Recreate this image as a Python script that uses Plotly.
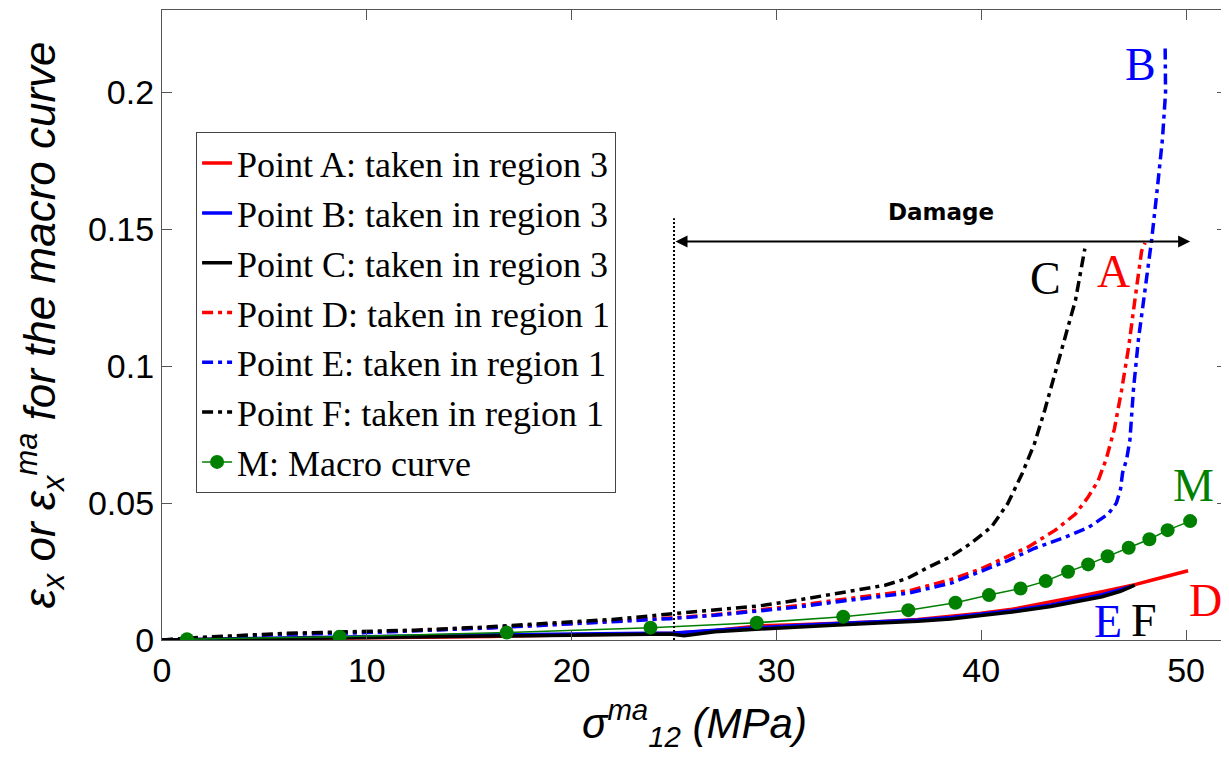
import plotly.graph_objects as go

# ---------------- data ----------------
# solid curves (legend: Point A/B/C, region 3)
xA = [0, 3, 6, 10, 13, 16, 19, 22, 25, 27, 29.2, 31, 33, 35, 36.9, 38.5, 40, 41.5, 43.4, 44.5, 45.9, 47.5, 48.5, 49.3, 50.1]
yA = [0, 0.0002, 0.0004, 0.0006, 0.0009, 0.0013, 0.0017, 0.0021, 0.0025, 0.0035, 0.0052, 0.0056, 0.0060, 0.0067, 0.0075, 0.0086, 0.0098, 0.0112, 0.0138, 0.0155, 0.0176, 0.0202, 0.0222, 0.0236, 0.0253]

xB = [0, 3, 6, 10, 13, 16, 19, 22, 25, 27, 29.2, 31, 33, 35, 36.9, 38.5, 40, 41.5, 43.4, 44.5, 45.9, 47.3]
yB = [0, 0.0004, 0.0008, 0.0012, 0.0016, 0.0019, 0.0021, 0.0024, 0.0026, 0.0036, 0.0046, 0.0053, 0.0060, 0.0067, 0.0073, 0.0082, 0.0093, 0.0107, 0.0128, 0.0143, 0.0165, 0.0195]

xC = [0, 3, 6, 10, 13, 16, 19, 22, 24.8, 25.5, 27, 29.2, 31, 33, 35, 36.9, 38.5, 40, 41.5, 43.4, 44.5, 45.9, 46.8, 47.5]
yC = [0, 0.0003, 0.0006, 0.0009, 0.0012, 0.0015, 0.0018, 0.0020, 0.0022, 0.0016, 0.0030, 0.0040, 0.0048, 0.0055, 0.0062, 0.0068, 0.0077, 0.0088, 0.0102, 0.0122, 0.0138, 0.0158, 0.0178, 0.0200]

# dash-dot curves (legend: Point D/E/F, region 1)
xD = [0, 3, 6, 10, 13, 16, 19, 22, 24.8, 27, 29.2, 31, 33, 35, 36.5, 38.5, 40.0, 41.0, 42.3, 43.6, 44.6, 45.2, 45.7, 46.1, 46.5, 46.85, 47.2, 47.5, 47.83, 48.0]
yD = [0, 0.0012, 0.0022, 0.0028, 0.0035, 0.0045, 0.0056, 0.0068, 0.0080, 0.0092, 0.0110, 0.0125, 0.0146, 0.0165, 0.0180, 0.0220, 0.0260, 0.0295, 0.0340, 0.0400, 0.0460, 0.0520, 0.0580, 0.0660, 0.0770, 0.0910, 0.1070, 0.1240, 0.1420, 0.1450]

xE = [0, 3, 6, 10, 13, 16, 19, 22, 24.8, 27, 29.2, 31, 33, 35, 36.5, 38.5, 40.16, 41.31, 42.61, 43.91, 45.22, 46.2, 46.6, 46.8, 46.9, 47.1, 47.26, 47.43, 47.67, 47.99, 48.32, 48.6, 48.85, 49.0, 48.98]
yE = [0, 0.0011, 0.0021, 0.0027, 0.0034, 0.0044, 0.0055, 0.0066, 0.0078, 0.0090, 0.0106, 0.0120, 0.0140, 0.0158, 0.0172, 0.0207, 0.0255, 0.0290, 0.0335, 0.0370, 0.0410, 0.0460, 0.0500, 0.0550, 0.0610, 0.0660, 0.0730, 0.0912, 0.1094, 0.1276, 0.1460, 0.1650, 0.1830, 0.2000, 0.2164]

xF = [0, 2, 5.9, 10, 12.4, 16, 19, 22, 24.8, 27, 29.2, 31, 33, 34.1, 35.3, 36.4, 37.4, 38.5, 39.5, 40.5, 41.3, 42.0, 42.6, 43.1, 43.6, 44.1, 44.6, 45.06]
yF = [0, 0.0010, 0.0024, 0.0030, 0.0036, 0.0048, 0.0060, 0.0075, 0.0095, 0.0110, 0.0125, 0.0145, 0.0170, 0.0182, 0.0200, 0.0225, 0.0265, 0.0304, 0.0353, 0.0413, 0.0499, 0.0608, 0.0717, 0.0839, 0.0973, 0.1106, 0.1240, 0.1429]

# macro curve M
xM = [1.22, 8.67, 16.83, 23.85, 29.04, 33.26, 36.44, 38.74, 40.38, 41.92, 43.15, 44.24, 45.22, 46.17, 47.20, 48.21, 49.10, 50.20]
yM = [0.0003, 0.0012, 0.0027, 0.0045, 0.0063, 0.0085, 0.0109, 0.0136, 0.0164, 0.0188, 0.0215, 0.0249, 0.0276, 0.0306, 0.0337, 0.0368, 0.0401, 0.0434]

names = ["Point A: taken in region 3", "Point B: taken in region 3", "Point C: taken in region 3",
         "Point D: taken in region 1", "Point E: taken in region 1", "Point F: taken in region 1",
         "M: Macro curve"]

x_ticks = [0, 10, 20, 30, 40, 50]
y_ticks = [0, 0.05, 0.1, 0.15, 0.2]
y_ticklabels = ["0", "0.05", "0.1", "0.15", "0.2"]

# curve labels: (text, x, y, colour)
labels = [("B", 47.79, 0.2101, "#0000ff"), ("C", 43.13, 0.132, "black"), ("A", 46.46, 0.1346, "#ff0000"),
          ("M", 50.38, 0.0565, "#008000"), ("D", 50.96, 0.0146, "#ff0000"),
          ("E", 46.17, 0.0069, "#0000ff"), ("F", 47.93, 0.0073, "black")]

damage_start = 25.0
damage_end = 50.2
damage_y = 0.1455
damage_line_top = 0.154

# ---------------- figure ----------------
RED, BLUE, BLACK, GREEN = "#ff0000", "#0000ff", "#000000", "#008000"
DASHDOT = "11px,5px,4px,5px"

fig = go.Figure()
series = [
    (xA, yA, RED, "solid"), (xB, yB, BLUE, "solid"), (xC, yC, BLACK, "solid"),
    (xD, yD, RED, DASHDOT), (xE, yE, BLUE, DASHDOT), (xF, yF, BLACK, DASHDOT),
]
for (xs, ys, col, dash), nm in zip(series, names[:6]):
    fig.add_trace(go.Scatter(x=xs, y=ys, mode="lines", name=nm, legendgroup=nm,
                             line=dict(color=col, width=3.5, dash=dash)))
fig.add_trace(go.Scatter(x=xM, y=yM, mode="lines+markers", name=names[6], legendgroup=names[6],
                         line=dict(color=GREEN, width=1.5),
                         marker=dict(color=GREEN, size=14)))

for t, x, y, c in labels:
    fig.add_annotation(x=x, y=y, xref="x", yref="y", text=t, showarrow=False,
                       font=dict(family="Liberation Serif", size=46, color=c),
                       xanchor="center", yanchor="middle")

# Damage arrow
fig.add_annotation(x=damage_end, y=damage_y, ax=damage_start, ay=damage_y,
                   xref="x", yref="y", axref="x", ayref="y", text="",
                   showarrow=True, arrowhead=2, startarrowhead=2, arrowside="end+start",
                   arrowwidth=2, arrowsize=1.2, startarrowsize=1.2, arrowcolor="black")
fig.add_annotation(x=38.04, y=0.1561, xref="x", yref="y", text="<b>Damage</b>", showarrow=False,
                   font=dict(family="DejaVu Sans", size=23, color="black"))
fig.add_shape(type="line", x0=damage_start, x1=damage_start, y0=0, y1=damage_line_top,
              xref="x", yref="y", line=dict(color="black", width=2, dash="2px,2px"))

axis_common = dict(showgrid=False, zeroline=False, showline=True, linecolor="#555555", linewidth=1.2,
                   mirror="ticks", ticks="inside", ticklen=10, tickcolor="#555555",
                   tickfont=dict(family="Liberation Sans", size=34, color="black"))

fig.update_xaxes(range=[0, 52], tickvals=x_ticks, **axis_common,
                 title=dict(text="<i>σ<sup>ma</sup><sub>12</sub> (MPa)</i>",
                            font=dict(family="Liberation Sans", size=42, color="black"), standoff=20))
fig.update_yaxes(range=[0, 0.23], tickvals=y_ticks, ticktext=y_ticklabels, **axis_common,
                 title=dict(text="<i>ε<sub>x</sub> or ε<sub>x</sub><sup>ma</sup> for the macro curve</i>",
                            font=dict(family="Liberation Sans", size=44, color="black"), standoff=18))

fig.update_layout(
    width=1221, height=762,
    margin=dict(l=154, r=2, t=2, b=130, autoexpand=False),
    plot_bgcolor="white", paper_bgcolor="white",
    legend=dict(x=0.032, y=0.806, xanchor="left", yanchor="top",
                bgcolor="white", bordercolor="#444444", borderwidth=1,
                font=dict(family="Liberation Serif", size=36, color="black"),
                tracegroupgap=0),
    showlegend=True,
)

fig.write_html("out.html")
